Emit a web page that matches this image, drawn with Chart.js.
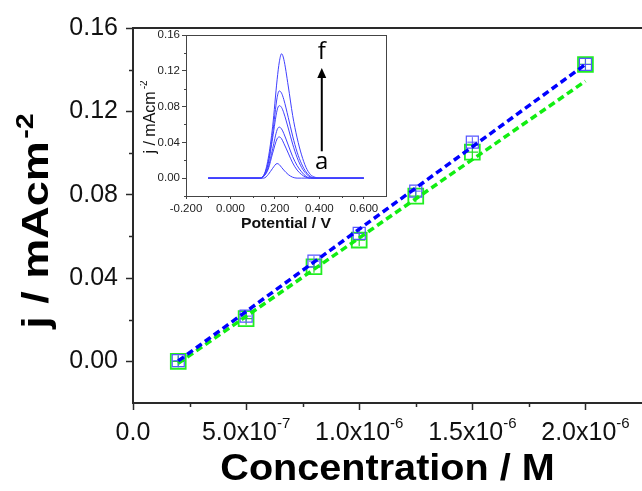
<!DOCTYPE html>
<html><head><meta charset="utf-8">
<script src="https://cdn.jsdelivr.net/npm/chart.js@4/dist/chart.umd.min.js"></script>
<style>
html,body{margin:0;padding:0;background:#fff;}
#wrap{position:relative;width:642px;height:491px;overflow:hidden;}
#main{position:absolute;left:0;top:0;}
#inset{position:absolute;left:140px;top:20px;}
</style></head><body>
<div id="wrap">
<canvas id="main" width="642" height="491"></canvas>
<canvas id="inset" width="260" height="220"></canvas>
</div>
<script>
// ---------- main chart data ----------
const concentrations = [2e-7, 5e-7, 8e-7, 1e-6, 1.25e-6, 1.5e-6, 2e-6];
const currentBlue    = [0.0003, 0.0217, 0.0481, 0.0614, 0.0817, 0.1052, 0.1425];
const currentGreen   = [0.0000, 0.0205, 0.0454, 0.0582, 0.0793, 0.1004, 0.1425];
const fitX           = [2e-7, 2e-6];
const fitBlueY       = [0.0002, 0.1425];
const fitGreenY      = [-0.0010, 0.1345];
const xTickValues    = [0, 5e-7, 1e-6, 1.5e-6, 2e-6];
const xTickMantissa  = ['0.0', '5.0x10', '1.0x10', '1.5x10', '2.0x10'];
const xTickExponent  = ['', '-7', '-6', '-6', '-6'];
const xMinorTicks    = [2.5e-7, 7.5e-7, 1.25e-6, 1.75e-6];
const yMinorTicks    = [0.02, 0.06, 0.10, 0.14];

// ---------- inset data ----------
const potentials = [-0.10, 0.13, 0.15, 0.17, 0.19, 0.21, 0.22, 0.23, 0.24, 0.26, 0.28, 0.30, 0.32, 0.34, 0.36, 0.38, 0.40, 0.60];
const curveA = [0, 0, 0.000, 0.004, 0.011, 0.0163, 0.015, 0.012, 0.009, 0.004, 0.001, 0, 0, 0, 0, 0, 0, 0];
const curveB = [0, 0, 0.002, 0.010, 0.028, 0.044, 0.046, 0.044, 0.039, 0.028, 0.017, 0.009, 0.004, 0.001, 0, 0, 0, 0];
const curveC = [0, 0, 0.002, 0.012, 0.033, 0.054, 0.057, 0.055, 0.050, 0.037, 0.024, 0.014, 0.007, 0.002, 0, 0, 0, 0];
const curveD = [0, 0, 0.003, 0.016, 0.045, 0.076, 0.081, 0.079, 0.073, 0.056, 0.038, 0.023, 0.012, 0.005, 0.001, 0, 0, 0];
const curveE = [0, 0, 0.003, 0.018, 0.050, 0.090, 0.0975, 0.095, 0.088, 0.068, 0.047, 0.029, 0.016, 0.007, 0.002, 0, 0, 0];
const curveF = [0, 0, 0.003, 0.022, 0.058, 0.110, 0.130, 0.139, 0.133, 0.103, 0.070, 0.045, 0.026, 0.012, 0.004, 0.001, 0, 0];
const insetCurves = [curveA, curveB, curveC, curveD, curveE, curveF];
const insetXMinor = [-0.1, 0.1, 0.3, 0.5];
const insetYMinor = [-0.02, 0.02, 0.06, 0.10, 0.14];
const arrowV = 0.411, arrowFrom = 0.030, arrowTo = 0.123;
const labelF = 0.141, labelA = 0.018;

const AX = '#2a2a2a';
const FONT = "'Liberation Sans', Arial, sans-serif";

const pts = (xs, ys) => xs.map((x, i) => ({x: x, y: ys[i]}));
const noPadX = s => { s.paddingLeft = 0; s.paddingRight = 0; };
const noPadY = s => { s.paddingTop = 0; s.paddingBottom = 0; };

const mainDecor = {
  id: 'mainDecor',
  afterDraw(chart) {
    const {ctx, chartArea: a, scales: {x, y}} = chart;
    ctx.save();
    ctx.setLineDash([]);
    ctx.globalAlpha = 1;
    ctx.globalCompositeOperation = 'source-over';
    // top frame line
    ctx.fillStyle = AX;
    ctx.fillRect(Math.round(a.left) - 1, Math.round(a.top) - 1, Math.round(a.right - a.left) + 2, 2);
    // minor ticks
    ctx.strokeStyle = AX;
    ctx.lineWidth = 1.5;
    xMinorTicks.forEach(v => {
      const px = Math.round(x.getPixelForValue(v)) + 0.5;
      ctx.beginPath(); ctx.moveTo(px, a.bottom); ctx.lineTo(px, a.bottom + 4); ctx.stroke();
    });
    yMinorTicks.forEach(v => {
      const py = Math.round(y.getPixelForValue(v)) + 0.5;
      ctx.beginPath(); ctx.moveTo(a.left, py); ctx.lineTo(a.left - 4, py); ctx.stroke();
    });
    // x tick labels with superscripts
    ctx.fillStyle = '#111';
    ctx.textBaseline = 'alphabetic';
    ctx.textAlign = 'left';
    xTickValues.forEach((v, i) => {
      const px = x.getPixelForValue(v);
      ctx.font = '25px ' + FONT;
      const w1 = ctx.measureText(xTickMantissa[i]).width;
      ctx.font = '15px ' + FONT;
      const w2 = xTickExponent[i] ? ctx.measureText(xTickExponent[i]).width : 0;
      const start = px - (w1 + w2) / 2;
      ctx.font = '25px ' + FONT;
      ctx.fillText(xTickMantissa[i], start, a.bottom + 37);
      if (w2) { ctx.font = '15px ' + FONT; ctx.fillText(xTickExponent[i], start + w1, a.bottom + 25); }
    });
    // x title
    ctx.save();
    ctx.fillStyle = '#000';
    ctx.font = 'bold 36px ' + FONT;
    ctx.translate((a.left + a.right) / 2, 480);
    ctx.scale(1.1, 1);
    ctx.textAlign = 'center';
    ctx.fillText('Concentration / M', 0, 0);
    ctx.restore();
    // y title
    ctx.save();
    ctx.fillStyle = '#000';
    ctx.translate(48, 221);
    ctx.rotate(-Math.PI / 2);
    ctx.scale(1.25, 1);
    ctx.font = 'bold 36px ' + FONT;
    const t1 = 'j / mAcm';
    const m1 = ctx.measureText(t1).width;
    ctx.font = 'bold 23px ' + FONT;
    const m2 = ctx.measureText('-2').width;
    const s = -(m1 + m2 + 2) / 2;
    ctx.font = 'bold 36px ' + FONT;
    ctx.fillText(t1, s, 0);
    ctx.font = 'bold 23px ' + FONT;
    ctx.fillText('-2', s + m1 + 2, -15);
    ctx.restore();
    ctx.restore();
  }
};

new Chart(document.getElementById('main'), {
  type: 'scatter',
  data: {
    datasets: [
      {data: pts(fitX, fitBlueY), showLine: true, borderColor: '#0000ff', borderWidth: 3.5, borderDash: [7, 4], pointRadius: 0, fill: false},
      {data: pts(fitX, fitGreenY), showLine: true, borderColor: '#11ee11', borderWidth: 3.5, borderDash: [7, 4], pointRadius: 0, fill: false},
      {data: pts(concentrations, currentBlue), showLine: false, pointStyle: 'rect', pointRadius: 8.5, borderColor: '#5555ff', borderWidth: 1.2, backgroundColor: 'rgba(0,0,0,0)'},
      {data: pts(concentrations, currentBlue), showLine: false, pointStyle: 'cross', pointRadius: 5, borderColor: '#5555ff', borderWidth: 1},
      {data: pts(concentrations, currentGreen), showLine: false, pointStyle: 'rect', pointRadius: 10.5, borderColor: '#22ee22', borderWidth: 1.8, backgroundColor: 'rgba(0,0,0,0)'},
      {data: pts(concentrations, currentGreen), showLine: false, pointStyle: 'cross', pointRadius: 6, borderColor: '#22dd22', borderWidth: 1.2}
    ]
  },
  options: {
    responsive: false, animation: false, devicePixelRatio: 1,
    layout: {autoPadding: false, padding: {top: 28, right: 0, left: 0, bottom: 0}},
    plugins: {legend: {display: false}, tooltip: {enabled: false}},
    scales: {
      x: {
        type: 'linear', min: 0, max: 2.25e-6,
        afterFit: s => { s.height = 88; noPadX(s); },
        border: {color: AX, width: 2},
        grid: {drawOnChartArea: false, tickLength: 7, tickColor: AX, tickWidth: 1.5},
        ticks: {stepSize: 5e-7, includeBounds: false, autoSkip: false, maxRotation: 0, color: 'rgba(0,0,0,0)',
                font: {size: 25, family: FONT},
                callback: (v) => { const i = xTickValues.findIndex(t => Math.abs(t - v) < 1e-12); return i >= 0 ? xTickMantissa[i] : ''; }}
      },
      y: {
        type: 'linear', min: -0.02, max: 0.16,
        afterFit: s => { s.width = 133; noPadY(s); },
        border: {color: AX, width: 2},
        grid: {drawOnChartArea: false, tickLength: 7, tickColor: AX, tickWidth: 1.5},
        ticks: {stepSize: 0.04, includeBounds: false, padding: 8, color: '#111',
                font: {size: 25, family: FONT},
                callback: (v) => (Math.abs(v) < 1e-9 ? 0 : v).toFixed(2)}
      }
    }
  },
  plugins: [mainDecor]
});

// ---------- inset ----------
const insetDecor = {
  id: 'insetDecor',
  beforeDraw(chart) {
    const {ctx, chartArea: a} = chart;
    ctx.save();
    ctx.fillStyle = '#fff';
    ctx.fillRect(a.left, a.top, a.right - a.left, a.bottom - a.top);
    ctx.restore();
  },
  afterDraw(chart) {
    const {ctx, chartArea: a, scales: {x, y}} = chart;
    ctx.save();
    ctx.setLineDash([]);
    ctx.strokeStyle = '#444';
    ctx.lineWidth = 1;
    ctx.strokeRect(Math.round(a.left) + 0.5, Math.round(a.top) + 0.5, Math.round(a.right - a.left), Math.round(a.bottom - a.top));
    insetXMinor.forEach(v => {
      const px = Math.round(x.getPixelForValue(v)) + 0.5;
      ctx.beginPath(); ctx.moveTo(px, a.bottom); ctx.lineTo(px, a.bottom + 2); ctx.stroke();
    });
    insetYMinor.forEach(v => {
      const py = Math.round(y.getPixelForValue(v)) + 0.5;
      ctx.beginPath(); ctx.moveTo(a.left, py); ctx.lineTo(a.left - 2, py); ctx.stroke();
    });
    // arrow
    const ax = x.getPixelForValue(arrowV);
    const y0 = y.getPixelForValue(arrowFrom), y1 = y.getPixelForValue(arrowTo);
    ctx.strokeStyle = '#000'; ctx.fillStyle = '#000'; ctx.lineWidth = 2;
    ctx.beginPath(); ctx.moveTo(ax, y0); ctx.lineTo(ax, y1 + 8); ctx.stroke();
    ctx.beginPath(); ctx.moveTo(ax, y1); ctx.lineTo(ax - 4.5, y1 + 10); ctx.lineTo(ax + 4.5, y1 + 10); ctx.closePath(); ctx.fill();
    ctx.font = "24px 'Open Sans', sans-serif";
    ctx.textAlign = 'center'; ctx.textBaseline = 'middle';
    ctx.fillText('f', ax, y.getPixelForValue(labelF));
    ctx.fillText('a', ax, y.getPixelForValue(labelA));
    // titles
    ctx.fillStyle = '#111';
    ctx.textBaseline = 'alphabetic';
    ctx.save();
    ctx.translate((a.left + a.right) / 2, 208);
    ctx.scale(1.05, 1);
    ctx.font = 'bold 15px ' + FONT;
    ctx.fillText('Potential / V', 0, 0);
    ctx.restore();
    ctx.save();
    ctx.translate(15, 97);
    ctx.rotate(-Math.PI / 2);
    ctx.font = '16px ' + FONT;
    const w1 = ctx.measureText('j / mAcm').width;
    ctx.font = '10px ' + FONT;
    const w2 = ctx.measureText('-2').width;
    const s = -(w1 + w2 + 2) / 2;
    ctx.textAlign = 'left';
    ctx.font = '16px ' + FONT;
    ctx.fillText('j / mAcm', s, 0);
    ctx.font = '10px ' + FONT;
    ctx.fillText('-2', s + w1 + 2, -8);
    ctx.restore();
    ctx.restore();
  }
};

new Chart(document.getElementById('inset'), {
  type: 'line',
  data: {
    datasets: insetCurves.map(c => ({
      data: pts(potentials, c), borderColor: '#4040ff', borderWidth: 1, pointRadius: 0,
      cubicInterpolationMode: 'monotone', fill: false
    }))
  },
  options: {
    responsive: false, animation: false, devicePixelRatio: 1,
    layout: {autoPadding: false, padding: {top: 15, right: 14, left: 0, bottom: 0}},
    plugins: {legend: {display: false}, tooltip: {enabled: false}},
    scales: {
      x: {
        type: 'linear', min: -0.2, max: 0.7,
        afterFit: s => { s.height = 44; noPadX(s); },
        border: {color: '#444', width: 1},
        grid: {drawOnChartArea: false, tickLength: 3, tickColor: '#444', tickWidth: 1},
        ticks: {stepSize: 0.2, includeBounds: false, autoSkip: false, maxRotation: 0, padding: 3, color: '#222',
                font: {size: 11.5, family: FONT},
                callback: (v) => (Math.abs(v) < 1e-9 ? 0 : v).toFixed(3)}
      },
      y: {
        type: 'linear', min: -0.02, max: 0.16,
        afterFit: s => { s.width = 46; noPadY(s); },
        border: {color: '#444', width: 1},
        grid: {drawOnChartArea: false, tickLength: 4, tickColor: '#444', tickWidth: 1},
        ticks: {stepSize: 0.04, includeBounds: false, padding: 2, color: '#222',
                font: {size: 11.5, family: FONT},
                callback: (v) => (Math.abs(v) < 1e-9 ? 0 : v).toFixed(2)}
      }
    }
  },
  plugins: [insetDecor]
});
</script>
</body></html>
